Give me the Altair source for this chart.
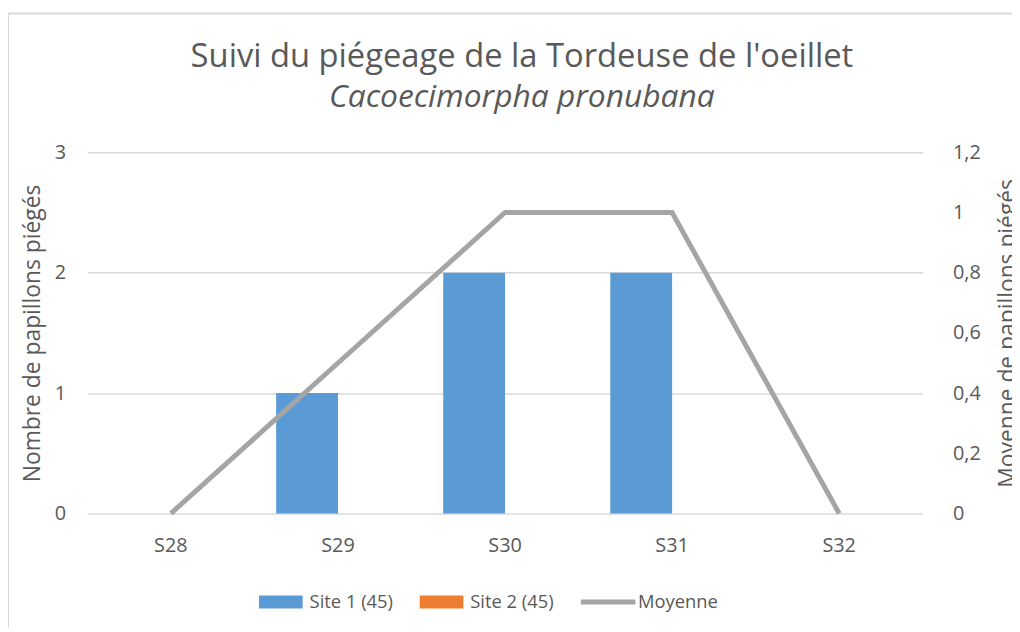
import altair as alt
import pandas as pd

semaines = ["S28", "S29", "S30", "S31", "S32"]
site1 = [0, 1, 2, 2, 0]
site2 = [0, 0, 0, 0, 0]
moyenne = [0, 0.5, 1, 1, 0]
series = ["Site 1 (45)", "Site 2 (45)", "Moyenne"]
colors = ["#5B9BD5", "#ED7D31", "#A5A5A5"]
left_ticks = [0, 1, 2, 3]
right_ticks = [0, 0.2, 0.4, 0.6, 0.8, 1.0, 1.2]

FONT = "Open Sans"
GREY = "#595959"
RECT = "M-1,-0.3H1V0.3H-1Z"
LINE = "M-1.3,-0.11H1.2V0.11H-1.3Z"

bars_df = pd.DataFrame(
    [{"Semaine": s, "Serie": series[0], "Valeur": v} for s, v in zip(semaines, site1)]
    + [{"Semaine": s, "Serie": series[1], "Valeur": v} for s, v in zip(semaines, site2)]
)
line_df = pd.DataFrame({"Semaine": semaines, "Serie": series[2], "Valeur": moyenne})
legend_df = pd.DataFrame({"Serie": series})

color_scale = alt.Scale(domain=series, range=colors)
x_enc = alt.X(
    "Semaine:N",
    sort=semaines,
    scale=alt.Scale(paddingInner=0.26, paddingOuter=0.13),
    axis=alt.Axis(
        title=None, labelAngle=0, domain=False, ticks=False, labelPadding=22,
        labelFontSize=20, labelColor=GREY, labelFont=FONT,
    ),
)

legend = alt.Legend(
    title=None,
    orient="none",
    legendX=173,
    legendY=431,
    direction="horizontal",
    padding=0,
    symbolSize=1936,
    symbolStrokeWidth=0,
    symbolOpacity=1,
    labelFontSize=18.5,
    labelColor=GREY,
    labelFont=FONT,
    labelOffset=7,
    columnPadding=26,
)

bars = alt.Chart(bars_df).mark_bar().encode(
    x=x_enc,
    xOffset=alt.XOffset("Serie:N", sort=series[:2], scale=alt.Scale(paddingInner=0)),
    y=alt.Y(
        "Valeur:Q",
        scale=alt.Scale(domain=[0, 3], nice=False),
        axis=alt.Axis(
            orient="left", values=left_ticks, grid=True, gridColor="#D9D9D9", gridWidth=1.5,
            domain=False, ticks=False, labelPadding=22, labelFontSize=20, labelColor=GREY,
            labelFont=FONT, title="Nombre de papillons piégés", titleFontSize=23,
            titleFontWeight="normal", titleColor=GREY, titleFont=FONT, titlePadding=10,
        ),
    ),
    color=alt.Color("Serie:N", scale=color_scale, legend=None),
)

line = alt.Chart(line_df).mark_line(strokeWidth=5).encode(
    x=x_enc,
    y=alt.Y(
        "Valeur:Q",
        scale=alt.Scale(domain=[0, 1.2], nice=False),
        axis=alt.Axis(
            orient="right", values=right_ticks, grid=False, domain=False, ticks=False,
            labelPadding=30, labelFontSize=20, labelColor=GREY, labelFont=FONT,
            labelExpr="replace(format(datum.value, '.1~f'), '.', ',')",
            title="Moyenne de papillons piégés", titleFontSize=23, titleFontWeight="normal",
            titleColor=GREY, titleFont=FONT, titlePadding=16, titleAngle=270,
            titleBaseline="top",
        ),
    ),
    color=alt.Color("Serie:N", scale=color_scale, legend=None),
)

legend_layer = alt.Chart(legend_df).mark_point(filled=True, clip=False).encode(
    x=alt.value(-5000),
    y=alt.value(100),
    color=alt.Color("Serie:N", scale=color_scale, legend=legend),
    shape=alt.Shape("Serie:N", scale=alt.Scale(domain=series, range=[RECT, RECT, LINE]), legend=legend),
)

border = alt.Chart(alt.Data(values=[{}])).mark_rect(
    fill=None, stroke="#D9D9D9", strokeWidth=2, clip=False
).encode(x=alt.value(-80), x2=alt.value(960), y=alt.value(-140), y2=alt.value(520))

chart = (
    alt.layer(border, bars, line, legend_layer)
    .resolve_scale(y="independent")
    .resolve_legend(color="independent", shape="independent")
    .properties(
        width=842,
        height=364,
        padding={"left": 80, "top": 143, "right": 90, "bottom": 113},
        autosize=alt.AutoSizeParams(type="none"),
        title=alt.Title(
            text="Suivi du piégeage de la Tordeuse de l'oeillet",
            subtitle="Cacoecimorpha pronubana",
            font=FONT, fontSize=33, fontWeight="normal", color=GREY,
            subtitleFont=FONT, subtitleFontSize=32, subtitleFontStyle="italic",
            subtitleColor=GREY, subtitlePadding=8, offset=-101, anchor="middle", dx=17,
        ),
    )
    .configure_view(stroke=None)
)

chart.save("out.html", embed_options={"renderer": "svg", "actions": False})
